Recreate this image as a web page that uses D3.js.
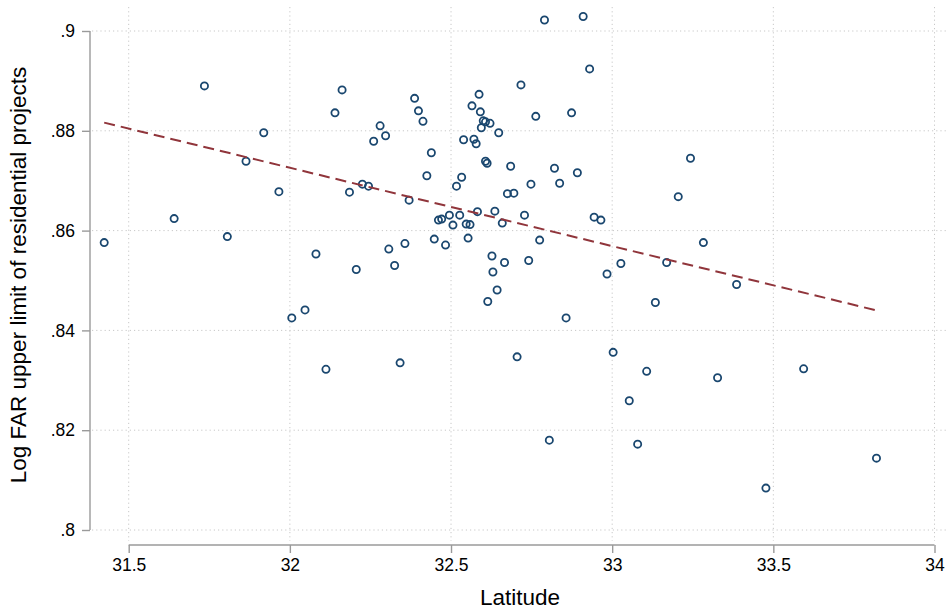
<!DOCTYPE html>
<html>
<head>
<meta charset="utf-8">
<script src="https://cdn.jsdelivr.net/npm/d3@7"></script>
<style>
  body { margin: 0; background: #fff; }
</style>
</head>
<body>
<div id="viz"></div>
<script>
// latitude of each city and its log FAR upper limit
const latitude = [
  31.424, 31.735, 31.641, 31.806, 31.864, 31.919, 31.966, 32.081, 32.006, 32.047,
  32.112, 32.140, 32.162, 32.185, 32.206, 32.225, 32.244, 32.260, 32.280, 32.297,
  32.307, 32.325, 32.342, 32.357, 32.370, 32.387, 32.399, 32.413, 32.425, 32.439,
  32.448, 32.461, 32.471, 32.483, 32.495, 32.506, 32.517, 32.527, 32.533, 32.539,
  32.547, 32.553, 32.559, 32.565, 32.571, 32.578, 32.582, 32.587, 32.591, 32.594,
  32.600, 32.607, 32.607, 32.612, 32.621, 32.627, 32.630, 32.614, 32.636, 32.643,
  32.648, 32.659, 32.666, 32.675, 32.695, 32.685, 32.705, 32.717, 32.728, 32.741,
  32.748, 32.763, 32.775, 32.790, 32.805, 32.821, 32.837, 32.857, 32.874, 32.892,
  32.910, 32.930, 32.944, 32.965, 32.984, 33.003, 33.027, 33.053, 33.079, 33.107,
  33.134, 33.169, 33.205, 33.243, 33.283, 33.327, 33.386, 33.477, 33.594, 33.820
];
const logFar = [
  .8576, .8890, .8624, .8588, .8739, .8796, .8678, .8553, .8425, .8441,
  .8322, .8836, .8882, .8677, .8522, .8693, .8689, .8779, .8810, .8790,
  .8563, .8530, .8335, .8574, .8661, .8865, .8840, .8819, .8710, .8756,
  .8583, .8621, .8623, .8571, .8631, .8611, .8689, .8631, .8707, .8782,
  .8613, .8585, .8612, .8850, .8783, .8774, .8638, .8873, .8838, .8806,
  .8820, .8818, .8739, .8735, .8815, .8549, .8517, .8458, .8639, .8481,
  .8796, .8615, .8536, .8674, .8675, .8729, .8347, .8892, .8631, .8540,
  .8693, .8829, .8581, .9022, .8180, .8725, .8695, .8425, .8836, .8716,
  .9029, .8924, .8627, .8621, .8513, .8356, .8534, .8259, .8172, .8318,
  .8456, .8536, .8668, .8745, .8576, .8305, .8492, .8084, .8323, .8144
];

const xTicks = [31.5, 32, 32.5, 33, 33.5, 34];
const xTickLabels = ["31.5", "32", "32.5", "33", "33.5", "34"];
const yTicks = [.8, .82, .84, .86, .88, .9];
const yTickLabels = [".8", ".82", ".84", ".86", ".88", ".9"];

buildChart();

// least squares fit, same as the line Stata draws with lfit
function linFit(xs, ys) {
  let mx = d3.mean(xs), my = d3.mean(ys);
  let sxy = 0, sxx = 0;
  for (let i = 0; i < xs.length; i++) {
    sxy += (xs[i] - mx) * (ys[i] - my);
    sxx += (xs[i] - mx) * (xs[i] - mx);
  }
  let b = sxy / sxx;
  return {a: my - b * mx, b: b};
}

function buildChart() {
  const W = 949, H = 614;
  const plot = {left: 92, right: 946, top: 7, bottom: 541};

  const x = d3.scaleLinear().domain([31.5, 34]).range([128.7, 934.5]);
  const y = d3.scaleLinear().domain([.8, .9]).range([530, 31]);

  const svg = d3.select("#viz").append("svg")
    .attr("width", W)
    .attr("height", H)
    .style("font-family", "'Liberation Sans', Arial, Helvetica, sans-serif");

  // dotted grid
  const grid = svg.append("g")
    .attr("stroke", "#c8c8c8")
    .attr("stroke-width", 1)
    .attr("stroke-dasharray", "1.2,3");

  grid.selectAll("line.h")
    .data(yTicks)
    .join("line")
      .attr("class", "h")
      .attr("x1", plot.left).attr("x2", plot.right)
      .attr("y1", d => y(d)).attr("y2", d => y(d));

  grid.selectAll("line.v")
    .data(xTicks)
    .join("line")
      .attr("class", "v")
      .attr("x1", d => x(d)).attr("x2", d => x(d))
      .attr("y1", plot.top).attr("y2", plot.bottom);

  // axes
  const yAxis = svg.append("g")
    .attr("transform", "translate(90,0)")
    .call(d3.axisLeft(y).tickValues(yTicks).tickFormat((d, i) => yTickLabels[i])
      .tickSize(8).tickPadding(7));

  const xAxis = svg.append("g")
    .attr("transform", "translate(0,545)")
    .call(d3.axisBottom(x).tickValues(xTicks).tickFormat((d, i) => xTickLabels[i])
      .tickSize(8).tickPadding(6));

  [xAxis, yAxis].forEach(g => {
    g.select(".domain").attr("stroke", "#9a9a9a").attr("stroke-width", 1.4);
    g.selectAll(".tick line").attr("stroke", "#9a9a9a").attr("stroke-width", 1.4);
    g.selectAll(".tick text")
      .attr("fill", "#000")
      .style("font-size", "17.5px")
      .style("font-family", "'Liberation Sans', Arial, Helvetica, sans-serif");
  });
  // stata axes stop at the outer ticks
  yAxis.select(".domain").attr("d", `M0,${y(.8)}V${y(.9)}`);
  xAxis.select(".domain").attr("d", `M${x(31.5)},0H${x(34)}`);

  // scatter
  const pts = latitude.map((v, i) => ({lat: v, far: logFar[i]}));

  svg.append("g")
    .attr("fill", "none")
    .attr("stroke", "#1a476f")
    .attr("stroke-width", 1.8)
  .selectAll("circle")
  .data(pts)
  .join("circle")
    .attr("cx", d => x(d.lat))
    .attr("cy", d => y(d.far))
    .attr("r", 3.6);

  // fitted line over the range of the data
  const fit = linFit(latitude, logFar);
  const ends = d3.extent(latitude).map(v => [v, fit.a + fit.b * v]);

  svg.append("path")
    .datum(ends)
    .attr("fill", "none")
    .attr("stroke", "#90353b")
    .attr("stroke-width", 2)
    .attr("stroke-dasharray", "11,6")
    .attr("d", d3.line().x(d => x(d[0])).y(d => y(d[1])));

  // axis titles
  svg.append("text")
    .attr("x", 520)
    .attr("y", 605)
    .attr("text-anchor", "middle")
    .style("font-size", "22.5px")
    .text("Latitude");

  svg.append("text")
    .attr("transform", "translate(26,275) rotate(-90)")
    .attr("text-anchor", "middle")
    .style("font-size", "22.5px")
    .text("Log FAR upper limit of residential projects");
}
</script>
</body>
</html>
